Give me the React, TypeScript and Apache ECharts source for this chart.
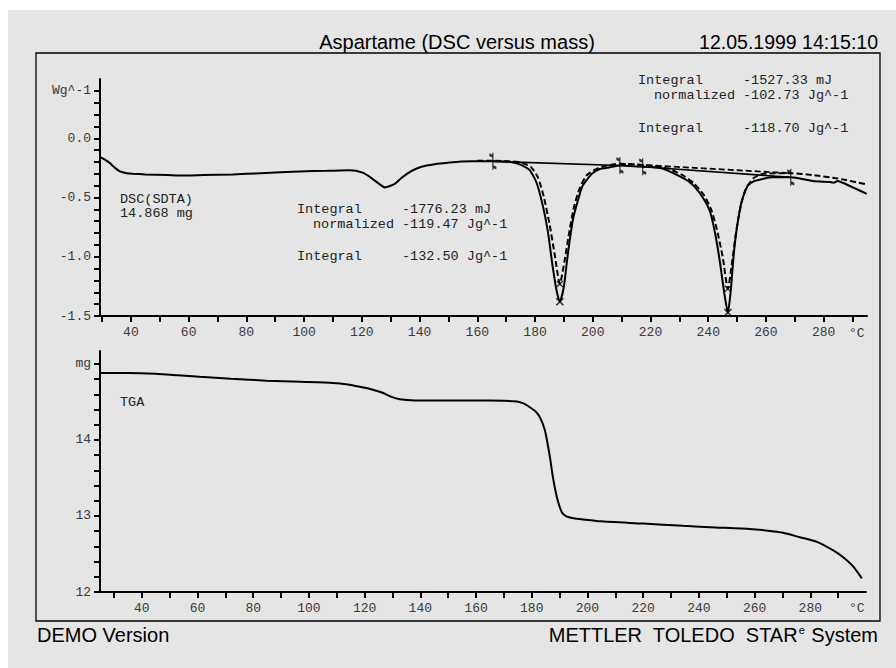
import React, { useEffect, useRef } from "react";
import * as echarts from "echarts";

// ---- axis ranges
const topXMin = 29.3;
const topXMax = 295;
const botXMin = 25;
const botXMax = 300;
const dscYMin = -1.5;
const dscYMax = 0.5;
const tgaYMin = 12;
const tgaYMax = 15.17;

// ---- DSC (solid) curve: temperature (°C) and heat flow (W/g)
const dscT = [29.3, 31, 32.7, 34.5, 36.2, 38.5, 40.7, 45, 52.5, 58, 65, 75.3, 85, 98.5, 108, 115.8, 120.3, 123, 125.2, 128, 131.4, 133.5, 135.6, 139, 142.5, 150.5, 158, 165.4, 171.3, 174.7, 177.1, 178.2, 180.6, 182.7, 184.4, 186.1, 187.5, 188.6, 190, 191.3, 193.1, 194.8, 196.5, 199.7, 202.4, 205.9, 209.4, 213, 217.3, 223.2, 228.4, 233.6, 237, 240.5, 242.2, 243.9, 245.7, 246.8, 247.8, 248.8, 249.9, 251.6, 253.7, 256.1, 262.3, 268.6, 276.2, 282, 283.5, 284.8, 287, 294.9];
const dscV = [-0.16, -0.18, -0.21, -0.25, -0.28, -0.295, -0.3, -0.305, -0.31, -0.315, -0.31, -0.305, -0.295, -0.28, -0.275, -0.27, -0.29, -0.33, -0.37, -0.415, -0.385, -0.34, -0.3, -0.255, -0.23, -0.205, -0.195, -0.195, -0.2, -0.22, -0.25, -0.27, -0.38, -0.57, -0.78, -1.08, -1.29, -1.38, -1.25, -0.99, -0.69, -0.53, -0.4, -0.3, -0.26, -0.245, -0.23, -0.235, -0.24, -0.25, -0.3, -0.37, -0.46, -0.61, -0.78, -1.02, -1.33, -1.47, -1.29, -0.99, -0.76, -0.53, -0.4, -0.36, -0.33, -0.33, -0.36, -0.37, -0.375, -0.36, -0.38, -0.47];

// ---- DSC (dashed) curve
const dashT = [160, 165.4, 171.3, 175, 178.5, 181, 183, 185, 186.8, 188.6, 190.2, 191.8, 193.5, 195.5, 198, 202, 206, 209.4, 217.3, 222, 226.5, 231, 235, 238.5, 241, 243, 245, 246.8, 248.3, 249.6, 251.2, 253, 255.5, 259, 268.6, 276, 285, 294.9];
const dashV = [-0.19, -0.19, -0.195, -0.205, -0.24, -0.33, -0.49, -0.72, -0.98, -1.23, -1.04, -0.8, -0.58, -0.42, -0.31, -0.25, -0.225, -0.215, -0.225, -0.235, -0.26, -0.31, -0.38, -0.48, -0.6, -0.77, -1.0, -1.27, -1.04, -0.8, -0.58, -0.43, -0.34, -0.3, -0.295, -0.31, -0.34, -0.39];

// ---- integration baselines
const base1T = [165.4, 209.4];
const base1V = [-0.195, -0.23];
const base2T = [217.3, 268.6];
const base2V = [-0.24, -0.33];
const base3T = [209.4, 268.6];
const base3V = [-0.215, -0.295];

// ---- integration limits and peak markers
const limitT = [165.4, 209.4, 217.3, 268.6];
const limitV = [-0.195, -0.23, -0.24, -0.33];
const peakT = [188.6, 246.8];
const peakSolidV = [-1.38, -1.47];
const peakDashV = [-1.23, -1.27];

// ---- TGA curve: temperature (°C) and mass (mg)
const tgaT = [25, 35, 45, 53, 60.8, 72, 84.9, 97, 108.6, 114, 118.3, 122, 126.5, 129.5, 132.6, 138, 150, 160, 170, 174.6, 177, 179.3, 181.2, 182.9, 184.7, 186.5, 187.6, 189, 190.8, 192.6, 195, 198.3, 204.5, 220, 234.3, 246, 258.3, 264, 270.2, 276.3, 282.4, 288.1, 291.7, 295.3, 298.5];
const tgaV = [14.88, 14.88, 14.87, 14.85, 14.83, 14.805, 14.78, 14.765, 14.75, 14.73, 14.7, 14.67, 14.62, 14.57, 14.535, 14.52, 14.52, 14.52, 14.515, 14.505, 14.48, 14.43, 14.38, 14.3, 14.13, 13.78, 13.51, 13.25, 13.05, 12.99, 12.97, 12.955, 12.93, 12.9, 12.87, 12.85, 12.83, 12.81, 12.78, 12.72, 12.66, 12.55, 12.46, 12.34, 12.18];

// ---- ticks and labels
const xLabels = [40, 60, 80, 100, 120, 140, 160, 180, 200, 220, 240, 260, 280];
const xTicks = [30, 40, 50, 60, 70, 80, 90, 100, 110, 120, 130, 140, 150, 160, 170, 180, 190, 200, 210, 220, 230, 240, 250, 260, 270, 280, 290];
const dscYLabels = [0.4, 0, -0.5, -1, -1.5];
const dscYTicks = [-1.5, -1.4, -1.3, -1.2, -1.1, -1.0, -0.9, -0.8, -0.7, -0.6, -0.5, -0.4, -0.3, -0.2, -0.1, 0, 0.1, 0.2, 0.3, 0.4];
const tgaYLabels = [15, 14, 13, 12];
const tgaYTicks = [12, 12.2, 12.4, 12.6, 12.8, 13, 13.2, 13.4, 13.6, 13.8, 14, 14.2, 14.4, 14.6, 14.8, 15];

const pair = (xs: number[], ys: number[]) => xs.map((x, i) => [x, ys[i]]);

const MONO = '"Liberation Mono", "DejaVu Sans Mono", monospace';
const SANS = '"Liberation Sans", Arial, sans-serif';

const axisLabelStyle = { fontFamily: MONO, fontSize: 13, color: "#3a3a3a" };
const axisLineStyle = { show: true, onZero: false, lineStyle: { color: "#000", width: 2 } };
const tickStyle = (values: number[]) => ({
  show: true,
  customValues: values,
  length: 6,
  lineStyle: { color: "#000", width: 2 },
});

function xAxis(grid: number, min: number, max: number) {
  return {
    type: "value",
    gridIndex: grid,
    min,
    max,
    axisLine: axisLineStyle,
    axisTick: tickStyle(xTicks),
    axisLabel: { customValues: xLabels, margin: 10, ...axisLabelStyle },
    splitLine: { show: false },
  };
}

const monoText = (x: number, y: number, text: string) => ({
  type: "text",
  x,
  y,
  silent: true,
  style: { text, font: `13.5px ${MONO}`, fill: "#222", textVerticalAlign: "middle" },
});

export default function App() {
  const ref = useRef<HTMLDivElement>(null);
  useEffect(() => {
    document.body.style.margin = "0";
    const chart = echarts.init(ref.current!, null, { renderer: "svg" });
    const option: any = {
      animation: false,
      backgroundColor: "#ffffff",
      grid: [
        { left: 100, top: 79, right: 29, bottom: 352 },
        { left: 100, top: 351, right: 30, bottom: 76 },
      ],
      xAxis: [xAxis(0, topXMin, topXMax), xAxis(1, botXMin, botXMax)],
      yAxis: [
        {
          type: "value",
          gridIndex: 0,
          min: dscYMin,
          max: dscYMax,
          axisLine: axisLineStyle,
          axisTick: tickStyle(dscYTicks),
          axisLabel: {
            customValues: dscYLabels,
            margin: 9,
            ...axisLabelStyle,
            formatter: (v: number) => (Math.abs(v - 0.4) < 1e-6 ? "Wg^-1" : v.toFixed(1)),
          },
          splitLine: { show: false },
        },
        {
          type: "value",
          gridIndex: 1,
          min: tgaYMin,
          max: tgaYMax,
          axisLine: axisLineStyle,
          axisTick: tickStyle(tgaYTicks),
          axisLabel: {
            customValues: tgaYLabels,
            margin: 9,
            ...axisLabelStyle,
            formatter: (v: number) => (Math.abs(v - 15) < 1e-6 ? "mg" : String(v)),
          },
          splitLine: { show: false },
        },
      ],
      series: [
        {
          type: "line", xAxisIndex: 0, yAxisIndex: 0, data: pair(dscT, dscV),
          showSymbol: false, smooth: 0.2, silent: true, z: 5,
          lineStyle: { color: "#000", width: 2 },
        },
        {
          type: "line", xAxisIndex: 0, yAxisIndex: 0, data: pair(dashT, dashV),
          showSymbol: false, smooth: 0.2, silent: true, z: 4,
          lineStyle: { color: "#000", width: 2, type: [6, 3] },
        },
        {
          type: "line", xAxisIndex: 0, yAxisIndex: 0, data: pair(base1T, base1V),
          showSymbol: false, silent: true, lineStyle: { color: "#000", width: 1.6 },
        },
        {
          type: "line", xAxisIndex: 0, yAxisIndex: 0, data: pair(base2T, base2V),
          showSymbol: false, silent: true, lineStyle: { color: "#000", width: 1.6 },
        },
        {
          type: "line", xAxisIndex: 0, yAxisIndex: 0, data: pair(base3T, base3V),
          showSymbol: false, silent: true, lineStyle: { color: "#000", width: 1.8, type: [6, 3] },
        },
        {
          type: "scatter", xAxisIndex: 0, yAxisIndex: 0, data: pair(limitT, limitV), silent: true, z: 6,
          symbol: "path://M5,0L5,20M5,4L2,2M5,16L8,18",
          symbolSize: [7, 17],
          itemStyle: { color: "none", borderColor: "#000", borderWidth: 1.8 },
        },
        {
          type: "scatter", xAxisIndex: 0, yAxisIndex: 0, data: pair(peakT, peakSolidV), silent: true, z: 6,
          symbol: "path://M0,0L10,10M10,0L0,10", symbolSize: 7,
          itemStyle: { color: "none", borderColor: "#000", borderWidth: 1.6 },
        },
        {
          type: "scatter", xAxisIndex: 0, yAxisIndex: 0, data: pair(peakT, peakDashV), silent: true, z: 6,
          symbol: "path://M0,0L10,10M10,0L0,10", symbolSize: 6,
          itemStyle: { color: "none", borderColor: "#000", borderWidth: 1.3 },
        },
        {
          type: "line", xAxisIndex: 1, yAxisIndex: 1, data: pair(tgaT, tgaV),
          showSymbol: false, smooth: 0.2, silent: true,
          lineStyle: { color: "#000", width: 2 },
        },
      ],
      graphic: [
        { type: "rect", z: -100, silent: true, shape: { x: 8, y: 10, width: 888, height: 658 }, style: { fill: "#e5e5e5" } },
        { type: "rect", z: -90, silent: true, shape: { x: 36, y: 53, width: 844, height: 568 }, style: { fill: "none", stroke: "#000", lineWidth: 1.3 } },
        {
          type: "text", x: 457, y: 42, silent: true,
          style: { text: "Aspartame (DSC versus mass)", font: `20px ${SANS}`, fill: "#000", textAlign: "center", textVerticalAlign: "middle" },
        },
        {
          type: "text", x: 878, y: 42, silent: true,
          style: { text: "12.05.1999 14:15:10", font: `19.5px ${SANS}`, fill: "#000", textAlign: "right", textVerticalAlign: "middle" },
        },
        {
          type: "text", x: 37, y: 635, silent: true,
          style: { text: "DEMO Version", font: `20px ${SANS}`, fill: "#000", textVerticalAlign: "middle" },
        },
        {
          type: "text", x: 878, y: 635, silent: true,
          style: {
            text: "{a|METTLER  TOLEDO  STAR}{s|e}{a| System}",
            textAlign: "right", textVerticalAlign: "middle",
            rich: {
              a: { fontFamily: SANS, fontSize: 20, color: "#000", lineHeight: 22 },
              s: { fontFamily: SANS, fontSize: 11, color: "#000", verticalAlign: "top", lineHeight: 22, padding: [0, 1, 8, 1] },
            },
          },
        },
        { type: "text", x: 849, y: 333, silent: true, style: { text: "°C", font: `13px ${MONO}`, fill: "#3a3a3a", textVerticalAlign: "middle" } },
        { type: "text", x: 849, y: 608, silent: true, style: { text: "°C", font: `13px ${MONO}`, fill: "#3a3a3a", textVerticalAlign: "middle" } },
        monoText(120, 199, "DSC(SDTA)"),
        monoText(120, 213, "14.868 mg"),
        monoText(120, 402, "TGA"),
        monoText(297, 209, "Integral"),
        monoText(402, 209, "-1776.23 mJ"),
        monoText(313, 224, "normalized"),
        monoText(402, 224, "-119.47 Jg^-1"),
        monoText(297, 256, "Integral"),
        monoText(402, 256, "-132.50 Jg^-1"),
        monoText(638, 80, "Integral"),
        monoText(743, 80, "-1527.33 mJ"),
        monoText(654, 95, "normalized"),
        monoText(743, 95, "-102.73 Jg^-1"),
        monoText(638, 128, "Integral"),
        monoText(743, 128, "-118.70 Jg^-1"),
      ],
    };
    chart.setOption(option);
    return () => chart.dispose();
  }, []);
  return <div ref={ref} style={{ position: "absolute", left: 0, top: 0, width: 896, height: 668 }} />;
}
